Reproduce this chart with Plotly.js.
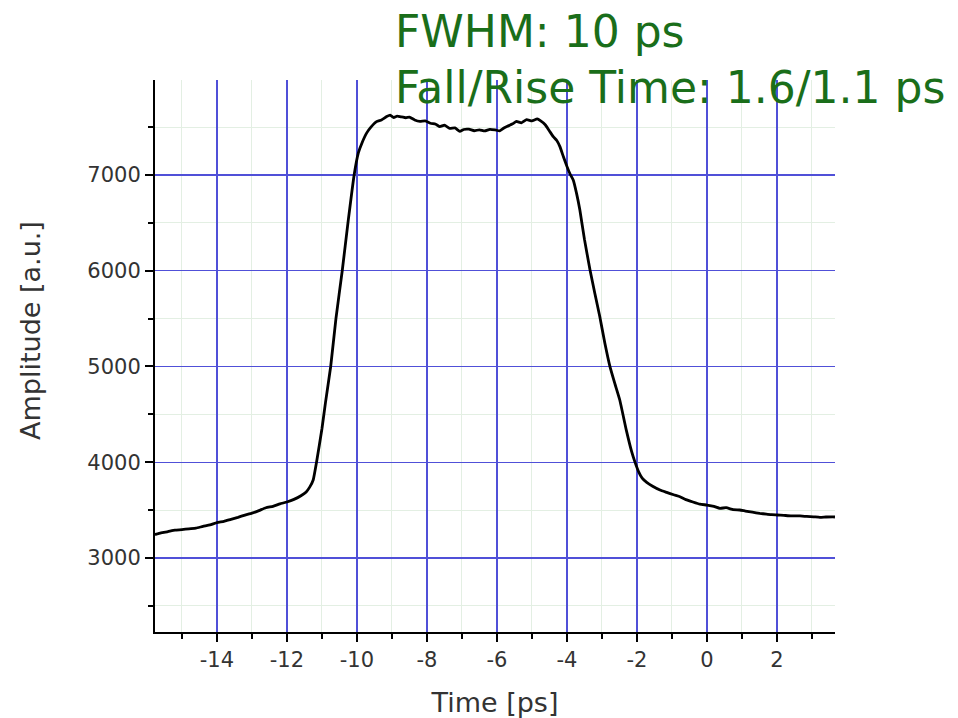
<!DOCTYPE html>
<html>
<head>
<meta charset="utf-8">
<script src="https://cdn.plot.ly/plotly-3.0.1.min.js"></script>
<style>html,body{margin:0;padding:0;background:#fff;}#chart{width:958px;height:718px;}</style>
</head>
<body>
<div id="chart"></div>
<script>
const timePs = [-15.77,-15.6,-15.4,-15.2,-15.0,-14.8,-14.6,-14.4,-14.2,-14.0,-13.8,-13.6,-13.4,-13.2,-13.0,-12.8,-12.6,-12.4,-12.2,-12.0,-11.8,-11.6,-11.45,-11.35,-11.25,-11.15,-11.0,-10.9,-10.75,-10.6,-10.42,-10.25,-10.08,-9.96,-9.85,-9.72,-9.6,-9.44,-9.3,-9.15,-9.05,-8.95,-8.85,-8.75,-8.6,-8.5,-8.35,-8.2,-8.05,-7.9,-7.75,-7.63,-7.5,-7.35,-7.2,-7.06,-6.95,-6.8,-6.65,-6.5,-6.35,-6.2,-6.05,-5.92,-5.8,-5.7,-5.55,-5.44,-5.3,-5.15,-5.0,-4.85,-4.75,-4.62,-4.5,-4.39,-4.29,-4.2,-4.1,-4.0,-3.91,-3.82,-3.72,-3.63,-3.5,-3.34,-3.2,-3.06,-2.92,-2.77,-2.63,-2.49,-2.3,-2.15,-2.06,-1.95,-1.85,-1.72,-1.55,-1.34,-1.15,-0.95,-0.77,-0.6,-0.4,-0.2,0.0,0.2,0.37,0.55,0.75,0.94,1.1,1.3,1.51,1.7,1.85,2.0,2.2,2.4,2.66,2.85,3.05,3.23,3.4,3.6,3.66];
const amplitude = [3245,3262,3275,3290,3296,3305,3312,3330,3345,3370,3382,3404,3425,3448,3468,3495,3525,3540,3565,3585,3612,3650,3690,3740,3815,4010,4350,4620,5000,5500,6000,6520,7000,7230,7340,7440,7500,7557,7575,7610,7625,7600,7615,7608,7598,7605,7575,7560,7565,7540,7530,7505,7520,7487,7492,7455,7475,7478,7462,7472,7460,7477,7470,7460,7490,7508,7535,7560,7545,7578,7565,7585,7565,7525,7460,7400,7360,7296,7190,7090,7010,6948,6800,6634,6330,6008,5760,5520,5250,4998,4820,4650,4330,4110,4006,3900,3835,3790,3750,3710,3685,3660,3640,3610,3585,3562,3553,3540,3519,3525,3505,3501,3490,3478,3466,3458,3452,3449,3445,3440,3439,3434,3430,3425,3428,3430,3428];
const xTickVals = [-14,-12,-10,-8,-6,-4,-2,0,2];
const xTickText = ['-14','-12','-10','-8','-6','-4','-2','0','2'];
const yTickVals = [3000,4000,5000,6000,7000];
const yTickText = ['3000','4000','5000','6000','7000'];
const xTitle = 'Time [ps]';
const yTitle = 'Amplitude [a.u.]';
const noteLines = ['FWHM: 10 ps', 'Fall/Rise Time: 1.6/1.1 ps'];

const majorGrid = '#5050d8';
const minorGrid = '#e3efe3';
const tickFont = {family: 'DejaVu Sans, sans-serif', size: 21, color: '#333'};
const titleFont = {family: 'DejaVu Sans, sans-serif', size: 27, color: '#333'};
const noteFont = {family: 'DejaVu Sans, sans-serif', size: 44, color: '#1a6e1a'};

const layout = {
  width: 958, height: 718,
  margin: {l: 155, r: 123, t: 80, b: 86},
  paper_bgcolor: '#fff', plot_bgcolor: '#fff',
  showlegend: false,
  xaxis: {
    range: [-15.77, 3.66], tickmode: 'array', tickvals: xTickVals, ticktext: xTickText,
    showgrid: true, gridcolor: majorGrid, gridwidth: 1.2,
    zeroline: false, showline: true, linecolor: '#000', linewidth: 2,
    ticks: 'outside', ticklen: 8, tickwidth: 2, tickcolor: '#000',
    tickfont: tickFont,
    minor: {dtick: 1, tick0: 0, showgrid: true, gridcolor: minorGrid, gridwidth: 1, ticks: 'outside', ticklen: 5, tickwidth: 2, tickcolor: '#000'},
    title: {text: xTitle, font: titleFont, standoff: 22}
  },
  yaxis: {
    range: [2227, 7992], tickmode: 'array', tickvals: yTickVals, ticktext: yTickText,
    showgrid: true, gridcolor: majorGrid, gridwidth: 1.2,
    zeroline: false, showline: true, linecolor: '#000', linewidth: 2,
    ticks: 'outside', ticklen: 8, tickwidth: 2, tickcolor: '#000',
    tickfont: tickFont,
    minor: {dtick: 500, tick0: 0, showgrid: true, gridcolor: minorGrid, gridwidth: 1, ticks: 'outside', ticklen: 5, tickwidth: 2, tickcolor: '#000'}
  },
  annotations: [
    {text: yTitle, xref: 'paper', yref: 'paper', x: -0.184, y: 0.547, xanchor: 'center', yanchor: 'middle', textangle: -90, showarrow: false, font: titleFont},
    {text: noteLines[0], xref: 'paper', yref: 'paper', x: 0.35, y: 1.087, xanchor: 'left', yanchor: 'middle', showarrow: false, font: noteFont},
    {text: noteLines[1], xref: 'paper', yref: 'paper', x: 0.35, y: 0.987, xanchor: 'left', yanchor: 'middle', showarrow: false, font: noteFont}
  ]
};

Plotly.newPlot('chart', [{
  x: timePs, y: amplitude, type: 'scatter', mode: 'lines',
  line: {color: '#000', width: 2.8, shape: 'spline', smoothing: 0.4}
}], layout, {displayModeBar: false, staticPlot: true});
</script>
</body>
</html>
